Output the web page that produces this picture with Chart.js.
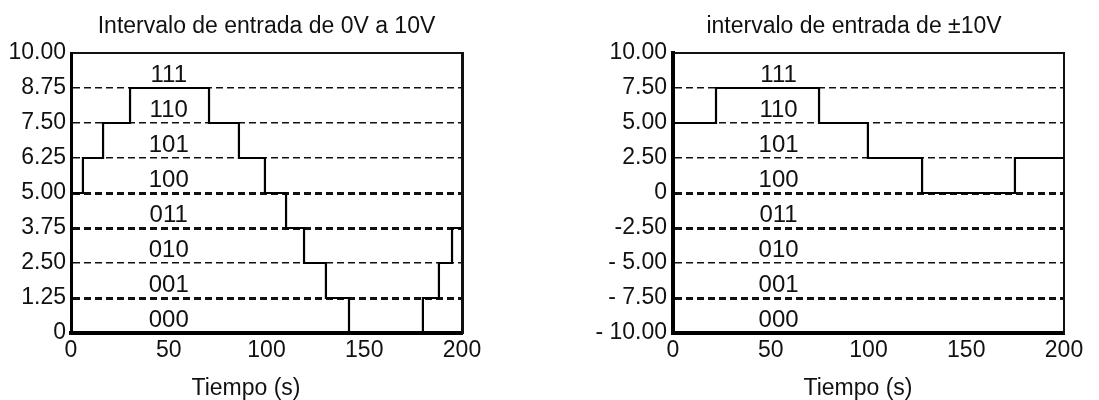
<!DOCTYPE html>
<html>
<head>
<meta charset="utf-8">
<script src="https://cdn.jsdelivr.net/npm/chart.js@4.4.1/dist/chart.umd.min.js"></script>
<style>
  html, body { margin: 0; padding: 0; background: #fff; width: 1099px; height: 400px; overflow: hidden; }
  body { position: relative; }
  canvas { position: absolute; top: 0; }
</style>
</head>
<body>
<canvas id="leftChart" width="533" height="400" style="left:0px"></canvas>
<canvas id="rightChart" width="588" height="400" style="left:560px"></canvas>
<script>
// ---------- data ----------
const leftTitle = 'Intervalo de entrada de 0V a 10V';
const rightTitle = 'intervalo de entrada de ±10V';
const xAxisTitle = 'Tiempo (s)';

const xTickValues = [0, 50, 100, 150, 200];
const xTickLabels = ['0', '50', '100', '150', '200'];

const leftYTicks = [0, 1.25, 2.5, 3.75, 5, 6.25, 7.5, 8.75, 10];
const leftYTickLabels = ['0', '1.25', '2.50', '3.75', '5.00', '6.25', '7.50', '8.75', '10.00'];

const rightYTicks = [-10, -7.5, -5, -2.5, 0, 2.5, 5, 7.5, 10];
const rightYTickLabels = ['- 10.00', '- 7.50', '- 5.00', '-2.50', '0', '2.50', '5.00', '7.50', '10.00'];

const codes = ['000', '001', '010', '011', '100', '101', '110', '111'];

const leftTimes  = [0, 6.1, 16.4, 30.2, 70.6, 85.9, 99.2, 110, 119.2, 130.4, 142.2, 180, 188.2, 194.9, 200];
const leftValues = [5, 6.25, 7.5, 8.75, 7.5, 6.25, 5, 3.75, 2.5, 1.25, 0, 1.25, 2.5, 3.75, 3.75];

const rightTimes  = [0, 22.0, 74.7, 99.7, 127.4, 174.9, 200];
const rightValues = [5, 7.5, 5, 2.5, 0, 2.5, 2.5];

// ---------- styling helpers ----------
const FONT = "'Liberation Sans', Arial, sans-serif";
const INK = '#111';

const codeLabelPlugin = {
  id: 'codeLabels',
  afterDatasetsDraw(chart, args, opts) {
    const { ctx } = chart;
    const xs = chart.scales.x, ys = chart.scales.y;
    ctx.save();
    ctx.font = opts.size + 'px ' + FONT;
    ctx.fillStyle = INK;
    ctx.textAlign = 'center';
    ctx.textBaseline = 'middle';
    opts.codes.forEach((c, i) => {
      const mid = (opts.levels[i] + opts.levels[i + 1]) / 2;
      ctx.fillText(c, xs.getPixelForValue(opts.time), ys.getPixelForValue(mid) + opts.dy);
    });
    ctx.restore();
  }
};

const axisTitlePlugin = {
  id: 'axisTitle',
  afterDraw(chart, args, opts) {
    const { ctx, chartArea } = chart;
    ctx.save();
    ctx.font = opts.size + 'px ' + FONT;
    ctx.fillStyle = INK;
    ctx.textAlign = 'center';
    ctx.textBaseline = 'middle';
    ctx.fillText(opts.text, (chartArea.left + chartArea.right) / 2 + opts.dx, chartArea.bottom + opts.dy);
    ctx.restore();
  }
};

function buildChart(canvasId, cfg) {
  const yMin = cfg.yTicks[0], yMax = cfg.yTicks[cfg.yTicks.length - 1];
  const data = cfg.times.map((t, i) => ({ x: t, y: cfg.values[i] }));
  return new Chart(document.getElementById(canvasId), {
    type: 'line',
    data: {
      datasets: [{
        data: data,
        borderColor: '#000',
        borderWidth: 2.2,
        pointRadius: 0,
        stepped: 'before',
        fill: false,
        tension: 0
      }]
    },
    options: {
      responsive: false,
      animation: false,
      events: [],
      layout: { padding: 0 },
      plugins: {
        legend: { display: false },
        tooltip: { enabled: false },
        title: {
          display: true,
          text: cfg.title,
          color: INK,
          font: { family: FONT, size: 23, weight: 'normal', lineHeight: 1.2 },
          padding: { top: 13, bottom: 12.4 }
        },
        codeLabels: { codes: codes, levels: cfg.yTicks, time: cfg.codeTime, size: 24, dy: 5 },
        axisTitle: { text: xAxisTitle, size: 23, dx: cfg.xTitleDx, dy: 56 }
      },
      scales: {
        x: {
          type: 'linear',
          min: 0, max: 200,
          afterBuildTicks: s => { s.ticks = xTickValues.map(v => ({ value: v })); },
          afterFit: s => { s.height = 67; },
          ticks: {
            color: INK,
            font: { family: FONT, size: 23 },
            padding: 4,
            maxRotation: 0,
            autoSkip: false,
            callback: v => xTickLabels[xTickValues.indexOf(v)]
          },
          grid: { display: false, drawTicks: false },
          border: { display: true, width: 4, color: '#000' }
        },
        y: {
          type: 'linear',
          position: 'left',
          min: yMin, max: yMax,
          afterBuildTicks: s => { s.ticks = cfg.yTicks.map(v => ({ value: v })); },
          afterFit: s => { s.width = cfg.leftW; },
          ticks: {
            color: INK,
            font: { family: FONT, size: 23 },
            padding: cfg.yPad,
            autoSkip: false,
            callback: v => cfg.yLabels[cfg.yTicks.indexOf(v)]
          },
          grid: {
            drawTicks: false,
            color: ctx => (ctx.tick && ctx.tick.value === yMin) ? 'rgba(0,0,0,0)' : '#111',
            lineWidth: ctx => {
              if (!ctx.tick) return 1;
              const v = ctx.tick.value;
              if (v === yMin) return 0;
              if (v === yMax) return 2;
              return cfg.thickLevels.includes(v) ? 3 : 1.5;
            }
          },
          border: {
            display: true,
            width: cfg.leftBorder,
            color: '#000',
            dash: ctx => (ctx.tick && ctx.tick.value !== yMax) ? [7, 4] : []
          }
        },
        y2: {
          type: 'linear',
          position: 'right',
          min: yMin, max: yMax,
          afterFit: s => { s.width = cfg.rightW; },
          ticks: { display: false },
          grid: { display: false, drawTicks: false },
          border: { display: true, width: cfg.rightBorder, color: '#111' }
        }
      }
    },
    plugins: [codeLabelPlugin, axisTitlePlugin]
  });
}

buildChart('leftChart', {
  title: leftTitle,
  times: leftTimes,
  values: leftValues,
  yTicks: leftYTicks,
  yLabels: leftYTickLabels,
  thickLevels: [5, 3.75, 1.25],
  codeTime: 50,
  xTitleDx: -20.5,
  leftW: 71,
  rightW: 71,
  yPad: 5,
  leftBorder: 3,
  rightBorder: 3
});

buildChart('rightChart', {
  title: rightTitle,
  times: rightTimes,
  values: rightValues,
  yTicks: rightYTicks,
  yLabels: rightYTickLabels,
  thickLevels: [0, -2.5, -7.5],
  codeTime: 54,
  xTitleDx: -10.5,
  leftW: 113,
  rightW: 84,
  yPad: 6,
  leftBorder: 4,
  rightBorder: 2
});
</script>
</body>
</html>
